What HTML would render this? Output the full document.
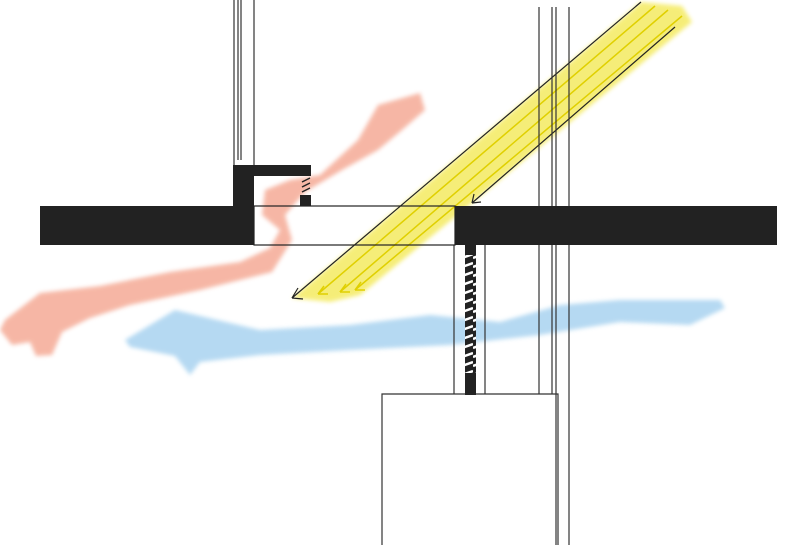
<!DOCTYPE html>
<html><head><style>html,body{margin:0;padding:0;background:#fff}svg{display:block}</style></head>
<body>
<svg width="789" height="558" viewBox="0 0 789 558" xmlns="http://www.w3.org/2000/svg">
<defs>
<filter id="blur"><feGaussianBlur stdDeviation="2"/></filter>
<pattern id="hatch" width="11" height="9" patternUnits="userSpaceOnUse">
<rect width="11" height="9" fill="#222"/><path d="M0 6 L11 2" stroke="#fff" stroke-width="2.5"/></pattern>
</defs>
<!-- red watercolor -->
<path d="M5 320 L40 293 L100 286 L170 272 L240 262 L270 248 L280 230 L262 215 L265 190 L290 180 L320 175 L358 140 L378 105 L420 93 L425 110 L402 130 L378 150 L342 170 L305 192 L285 215 L292 240 L272 272 L200 290 L130 305 L90 318 L62 332 L52 355 L36 356 L30 342 L12 345 L0 330 Z" fill="#f4a58f" opacity="0.8" filter="url(#blur)"/>
<!-- blue watercolor -->
<path d="M125 340 L175 310 L260 330 L350 325 L430 315 L500 322 L560 305 L620 300 L720 300 L725 308 L690 325 L620 322 L540 335 L450 345 L350 350 L260 355 L200 362 L190 375 L175 356 L130 347 Z" fill="#a9d3f0" opacity="0.85" filter="url(#blur)"/>
<!-- yellow beam -->
<path d="M641 2 L682 6 L692 22 L360 295 L330 302 L292 298 Z" fill="#f2e640" opacity="0.7" filter="url(#blur)"/>
<g stroke="#e0d000" stroke-width="1.5" fill="none">
<line x1="655" y1="6" x2="318" y2="294"/><line x1="668" y1="10" x2="340" y2="292"/><line x1="682" y1="16" x2="355" y2="290"/>
<path d="M318 294 L324 286 M318 294 L328 294"/><path d="M340 292 L346 284 M340 292 L350 292"/><path d="M355 290 L361 282 M355 290 L365 290"/>
</g>
<g stroke="#222" stroke-width="1.2" fill="none">
<line x1="641" y1="2" x2="292" y2="298"/><path d="M292 298 L298 288 M292 298 L303 299"/>
<line x1="675" y1="27" x2="472" y2="203"/><path d="M472 203 L474 194 M472 203 L481 202"/>
</g>
<!-- verticals -->
<g stroke="#333" stroke-width="1.2" fill="none">
<line x1="234" y1="0" x2="234" y2="166"/><line x1="238" y1="0" x2="238" y2="160"/><line x1="241" y1="0" x2="241" y2="160"/><line x1="254" y1="0" x2="254" y2="166"/>
<line x1="539" y1="7" x2="539" y2="394"/><line x1="552" y1="7" x2="552" y2="394"/><line x1="556" y1="7" x2="556" y2="545"/><line x1="569" y1="7" x2="569" y2="545"/>
<line x1="454" y1="245" x2="454" y2="394"/><line x1="485" y1="245" x2="485" y2="394"/>
<path d="M382 545 L382 394 L558 394 L558 545"/>
</g>
<!-- slab -->
<rect x="40" y="206" width="214" height="39" fill="#222"/>
<rect x="254" y="206" width="201" height="39" fill="none" stroke="#222" stroke-width="1.2"/>
<rect x="455" y="206" width="322" height="39" fill="#222"/>
<!-- upper box -->
<rect x="233" y="165" width="21" height="41" fill="#222"/>
<rect x="233" y="165" width="78" height="11" fill="#222"/>
<rect x="300" y="195" width="11" height="11" fill="#222"/>
<path d="M302 182 L310 178 M302 187 L310 183 M302 192 L310 188" stroke="#222" stroke-width="1.5"/>
<!-- column -->
<rect x="465" y="245" width="11" height="150" fill="#222"/>
<rect x="465" y="255" width="11" height="118" fill="url(#hatch)"/>
</svg>
</body></html>
